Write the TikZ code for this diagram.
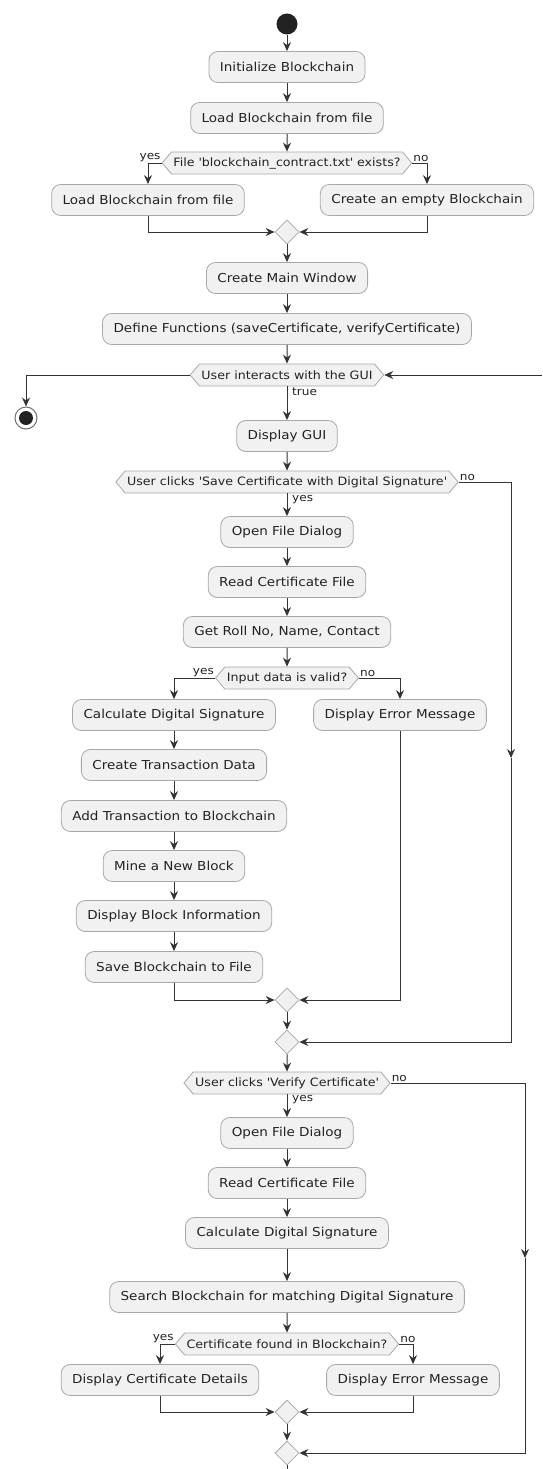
\documentclass[tikz,border=0pt]{standalone}
\usepackage{fontspec}
\setmainfont{DejaVu Sans}[FakeStretch=1.1]
\usetikzlibrary{shapes.symbols,shapes.geometric,arrows.meta}
\definecolor{boxfill}{HTML}{F1F1F1}
\definecolor{boxline}{HTML}{A8A8A8}
\definecolor{ink}{HTML}{222222}
\definecolor{wire}{HTML}{333333}
\newcommand{\sq}{\textquotesingle}
\begin{document}
\begin{tikzpicture}[x=1pt,y=-1pt,
 font=\fontsize{12.3}{14}\selectfont, text=ink,
 act/.style={draw=boxline, fill=boxfill, rounded corners=9pt, minimum height=31pt, inner xsep=11pt, line width=0.8pt},
 hexa/.style={draw=boxline, fill=boxfill, shape=signal, signal to=east and west, signal pointer angle=100, minimum height=22pt, inner xsep=2pt, inner ysep=1pt, line width=0.8pt, font=\fontsize{11.5}{13}\selectfont},
 merge/.style={draw=boxline, fill=boxfill, diamond, minimum width=24pt, minimum height=24pt, inner sep=0pt, line width=0.8pt},
 flow/.style={draw=wire, line width=1pt, -{Stealth[length=9pt,width=8pt,inset=3pt]}},
 wireline/.style={draw=wire, line width=1pt},
 lbl/.style={font=\fontsize{11}{12}\selectfont, inner sep=1pt, text=ink}
]
\useasboundingbox (0,0) rectangle (542,1469);

% top part
\node[circle, fill=ink, minimum size=21pt, inner sep=0pt] (start) at (287,24) {};
\node[act] (n1) at (287,67) {Initialize Blockchain};
\node[act] (n2) at (287,118) {Load Blockchain from file};
\node[hexa] (d1) at (287,163) {File \sq blockchain\_contract.txt\sq\ exists?};
\node[act] (l1) at (148,200) {Load Blockchain from file};
\node[act] (r1) at (427,200) {Create an empty Blockchain};
\node[merge] (m1) at (287,232) {};
\node[act] (n3) at (287,278) {Create Main Window};
\node[act] (n4) at (287,329) {Define Functions (saveCertificate, verifyCertificate)};
\node[hexa] (w) at (287,375) {User interacts with the GUI};
\node[circle, draw=wire!70, fill=white, line width=1pt, minimum size=22pt, inner sep=0pt] (end) at (26,418) {};
\fill[ink] (end.center) circle (7pt);
\node[act] (n5) at (287,436) {Display GUI};
\node[hexa] (d2) at (287,482) {User clicks \sq Save Certificate with Digital Signature\sq};
\node[act] (n6) at (287,532) {Open File Dialog};
\node[act] (n7) at (287,582) {Read Certificate File};
\node[act] (n8) at (287,632) {Get Roll No, Name, Contact};
\node[hexa] (d3) at (287,678) {Input data is valid?};
\node[act] (a1) at (174,715) {Calculate Digital Signature};
\node[act] (b1) at (400,715) {Display Error Message};
\node[act] (a2) at (174,765) {Create Transaction Data};
\node[act] (a3) at (174,816) {Add Transaction to Blockchain};
\node[act] (a4) at (174,866) {Mine a New Block};
\node[act] (a5) at (174,916) {Display Block Information};
\node[act] (a6) at (174,967) {Save Blockchain to File};
\node[merge] (m2) at (287,1000) {};
\node[merge] (m3) at (287,1042) {};
\node[hexa] (d4) at (287,1083) {User clicks \sq Verify Certificate\sq};
\node[act] (v1) at (287,1133) {Open File Dialog};
\node[act] (v2) at (287,1183) {Read Certificate File};
\node[act] (v3) at (287,1233) {Calculate Digital Signature};
\node[act] (v4) at (287,1297) {Search Blockchain for matching Digital Signature};
\node[hexa] (d5) at (287,1344) {Certificate found in Blockchain?};
\node[act] (c1) at (160,1380) {Display Certificate Details};
\node[act] (c2) at (413,1380) {Display Error Message};
\node[merge] (m4) at (287,1412) {};
\node[merge] (m5) at (287,1453) {};

\coordinate (loopin) at (542,375);
\coordinate (bot) at (287,1469);
\coordinate (k1) at (511,758);
\coordinate (k2) at (525,1258);

% labels
\node[lbl, anchor=south east] (t1) at (d1.west) {yes};
\node[lbl, anchor=south west] (t2) at (d1.east) {no};
\node[lbl, anchor=west] (t3) at (291,392) {true};
\node[lbl, anchor=south west] (t4) at (d2.east) {no};
\node[lbl, anchor=west] (t5) at (291,500) {yes};
\node[lbl, anchor=south east] (t6) at (d3.west) {yes};
\node[lbl, anchor=south west] (t7) at (d3.east) {no};
\node[lbl, anchor=south west] (t8) at (d4.east) {no};
\node[lbl, anchor=west] (t9) at (291,1100) {yes};
\node[lbl, anchor=south east] (t10) at (d5.west) {yes};
\node[lbl, anchor=south west] (t11) at (d5.east) {no};

% connectors
\draw[flow] (start) -- (n1);
\draw[flow] (n1) -- (n2);
\draw[flow] (n2) -- (d1);
\draw[flow] (d1.west) -| (l1.north);
\draw[flow] (d1.east) -| (r1.north);
\draw[flow] (l1.south) |- (m1.west);
\draw[flow] (r1.south) |- (m1.east);
\draw[flow] (m1) -- (n3);
\draw[flow] (n3) -- (n4);
\draw[flow] (n4) -- (w);
\draw[flow] (w.west) -| (end.north);
\draw[flow] (loopin) -- (w.east);
\draw[flow] (w.south) -- (n5);
\draw[flow] (n5) -- (d2);
\draw[flow] (d2.south) -- (n6);
\draw[flow] (d2.east) -| (k1);
\draw[flow] (k1) |- (m3.east);
\draw[flow] (n6) -- (n7);
\draw[flow] (n7) -- (n8);
\draw[flow] (n8) -- (d3);
\draw[flow] (d3.west) -| (a1.north);
\draw[flow] (d3.east) -| (b1.north);
\draw[flow] (a1) -- (a2);
\draw[flow] (a2) -- (a3);
\draw[flow] (a3) -- (a4);
\draw[flow] (a4) -- (a5);
\draw[flow] (a5) -- (a6);
\draw[flow] (a6.south) |- (m2.west);
\draw[flow] (b1.south) |- (m2.east);
\draw[flow] (m2) -- (m3);
\draw[flow] (m3) -- (d4);
\draw[flow] (d4.south) -- (v1);
\draw[flow] (d4.east) -| (k2);
\draw[flow] (k2) |- (m5.east);
\draw[flow] (v1) -- (v2);
\draw[flow] (v2) -- (v3);
\draw[flow] (v3) -- (v4);
\draw[flow] (v4) -- (d5);
\draw[flow] (d5.west) -| (c1.north);
\draw[flow] (d5.east) -| (c2.north);
\draw[flow] (c1.south) |- (m4.west);
\draw[flow] (c2.south) |- (m4.east);
\draw[flow] (m4) -- (m5);
\draw[wireline] (m5.south) -- (bot);
\end{tikzpicture}
\end{document}
